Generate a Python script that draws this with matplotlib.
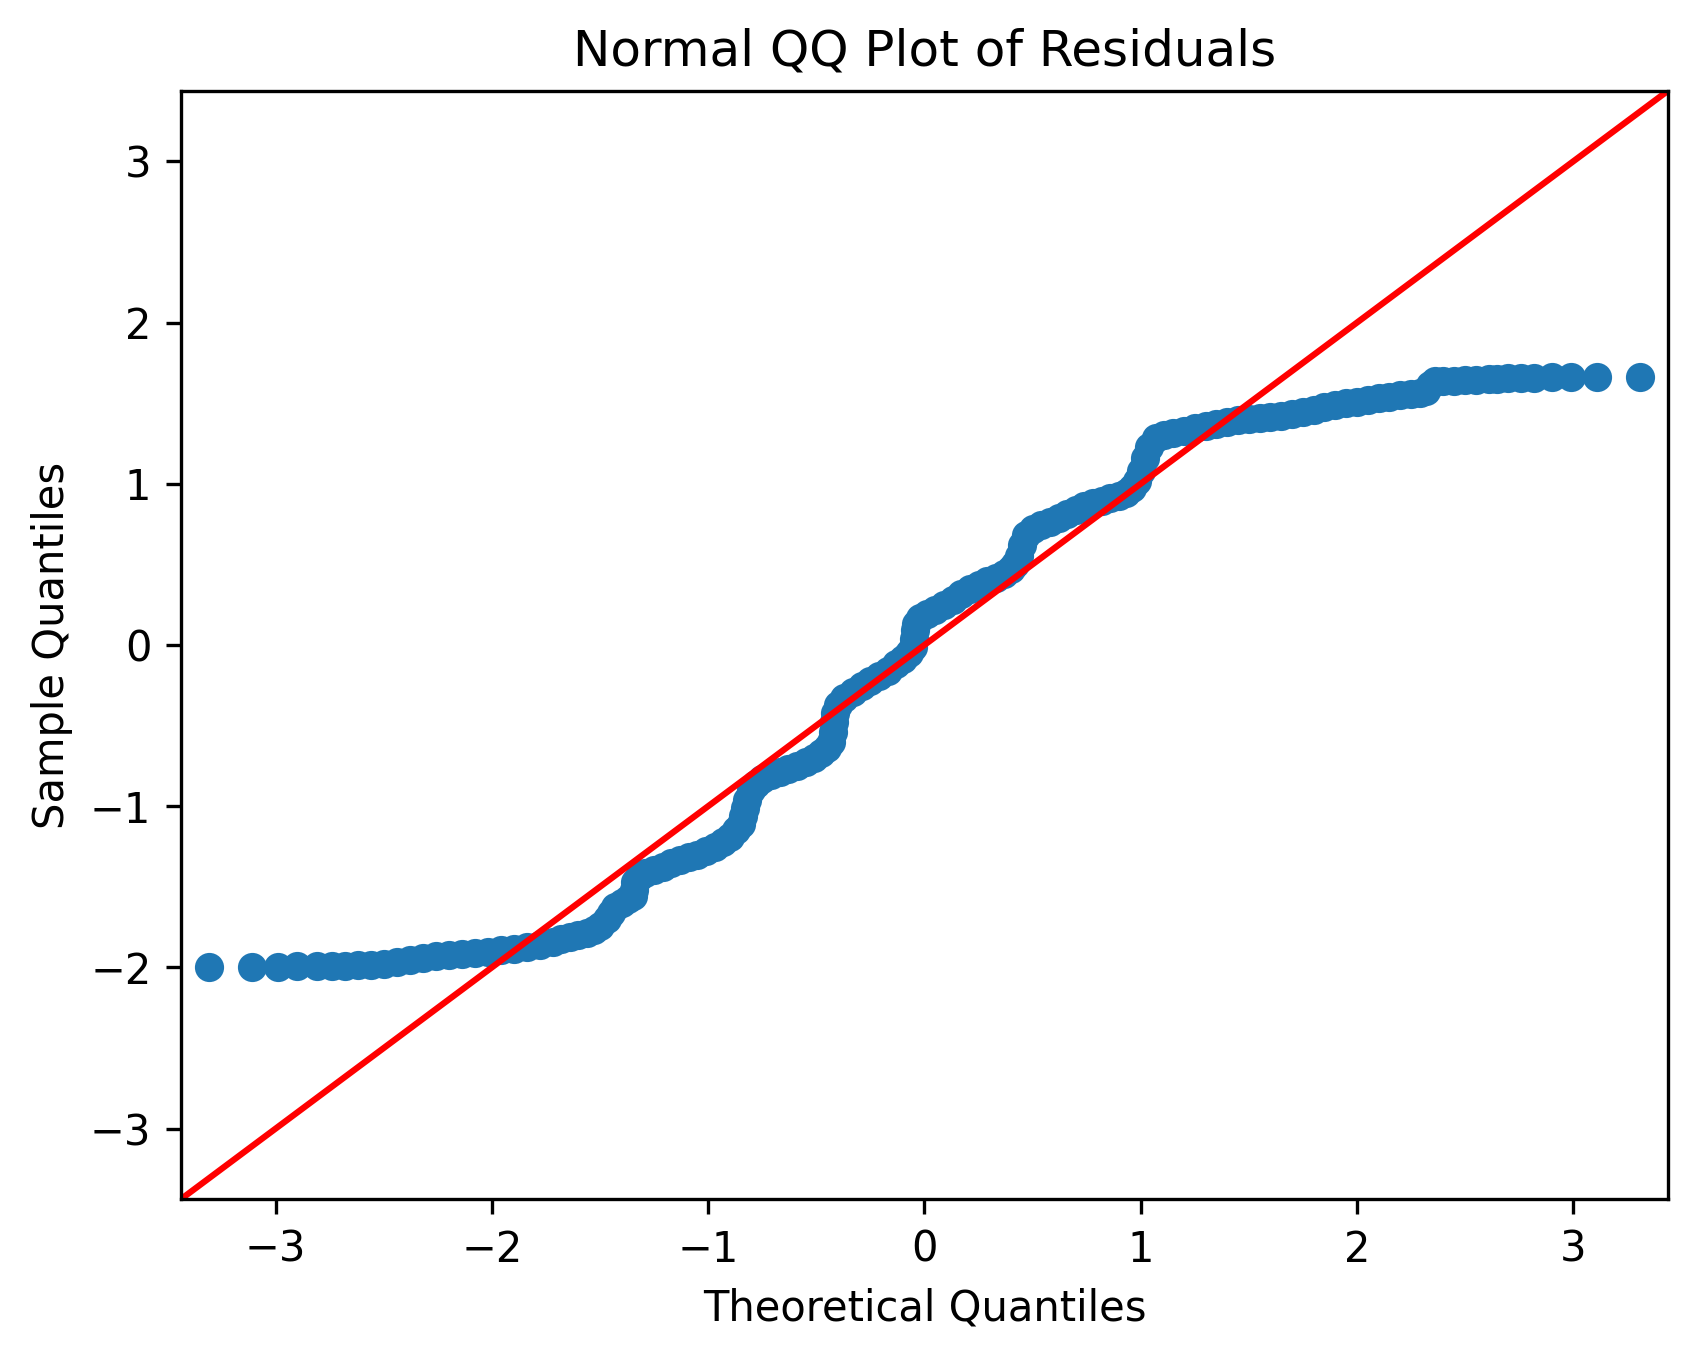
import matplotlib
matplotlib.use("Agg")
import matplotlib.pyplot as plt

# theoretical quantiles (x) and sample quantiles (y)
theoretical = [
    -3.31, -3.11, -2.99, -2.90, -2.81, -2.74, -2.68, -2.62, -2.56, -2.50,
    -2.44, -2.38, -2.32, -2.26, -2.20, -2.14, -2.08, -2.02, -1.96, -1.90,
    -1.84, -1.78, -1.72, -1.68, -1.64, -1.60, -1.56, -1.53, -1.50, -1.47,
    -1.45, -1.43, -1.40, -1.37, -1.35, -1.345, -1.34, -1.32, -1.29, -1.25,
    -1.21, -1.17, -1.13, -1.09, -1.05, -1.01, -0.97, -0.93, -0.90, -0.87,
    -0.85, -0.84, -0.83, -0.82, -0.80, -0.78, -0.75, -0.71, -0.67, -0.63,
    -0.59, -0.55, -0.51, -0.48, -0.45, -0.43, -0.425, -0.42, -0.415, -0.40,
    -0.37, -0.33, -0.29, -0.25, -0.21, -0.17, -0.13, -0.10, -0.07, -0.055,
    -0.05, -0.045, -0.04, -0.02, 0.01, 0.05, 0.09, 0.13, 0.17, 0.21,
    0.25, 0.29, 0.33, 0.37, 0.40, 0.42, 0.435, 0.45, 0.47, 0.50,
    0.54, 0.58, 0.62, 0.66, 0.70, 0.74, 0.78, 0.82, 0.86, 0.90,
    0.93, 0.96, 0.985, 1.00, 1.02, 1.04, 1.07, 1.11, 1.15, 1.20,
    1.25, 1.30, 1.35, 1.40, 1.45, 1.50, 1.55, 1.60, 1.65, 1.70,
    1.75, 1.80, 1.85, 1.90, 1.95, 2.00, 2.05, 2.10, 2.15, 2.20,
    2.25, 2.29, 2.32, 2.34, 2.36, 2.40, 2.45, 2.50, 2.55, 2.61,
    2.65, 2.70, 2.76, 2.82, 2.90, 2.99, 3.11, 3.31,
]
sample = [
    -2.000, -1.995, -1.995, -1.993, -1.993, -1.992, -1.990, -1.988, -1.984, -1.978,
    -1.968, -1.955, -1.940, -1.930, -1.922, -1.915, -1.908, -1.902, -1.895, -1.885,
    -1.872, -1.860, -1.843, -1.825, -1.812, -1.800, -1.785, -1.770, -1.745, -1.700,
    -1.660, -1.627, -1.600, -1.578, -1.560, -1.520, -1.470, -1.440, -1.415, -1.395,
    -1.375, -1.355, -1.335, -1.318, -1.300, -1.280, -1.255, -1.225, -1.190, -1.150,
    -1.110, -1.060, -1.010, -0.960, -0.900, -0.860, -0.830, -0.808, -0.790, -0.772,
    -0.752, -0.728, -0.700, -0.670, -0.640, -0.600, -0.540, -0.480, -0.420, -0.370,
    -0.330, -0.290, -0.255, -0.225, -0.190, -0.160, -0.120, -0.090, -0.050, -0.010,
    0.040, 0.090, 0.130, 0.170, 0.195, 0.215, 0.245, 0.280, 0.315, 0.345,
    0.370, 0.395, 0.415, 0.440, 0.470, 0.500, 0.550, 0.620, 0.680, 0.720,
    0.745, 0.765, 0.790, 0.815, 0.840, 0.860, 0.880, 0.895, 0.910, 0.925,
    0.945, 0.975, 1.020, 1.080, 1.160, 1.230, 1.285, 1.305, 1.318, 1.328,
    1.345, 1.358, 1.370, 1.383, 1.395, 1.402, 1.408, 1.413, 1.420, 1.432,
    1.447, 1.460, 1.474, 1.488, 1.500, 1.510, 1.520, 1.530, 1.540, 1.548,
    1.555, 1.562, 1.575, 1.610, 1.635, 1.637, 1.640, 1.643, 1.646, 1.650,
    1.652, 1.655, 1.657, 1.659, 1.661, 1.662, 1.663, 1.664,
]
lim = 3.44

fig = plt.figure(figsize=(1697 / 300, 1361 / 300), dpi=300)
ax = fig.add_axes([0.1064, 0.1187, 0.8767, 0.8148])

ax.plot(theoretical, sample, marker="o", linestyle="none", color="C0", markersize=6)
ax.axline((0, 0), slope=1, color="r")

ax.set_xlim(-lim, lim)
ax.set_ylim(-lim, lim)
ax.set_title("Normal QQ Plot of Residuals")
ax.set_xlabel("Theoretical Quantiles")
ax.set_ylabel("Sample Quantiles")

fig.savefig("out.png", dpi=300)
